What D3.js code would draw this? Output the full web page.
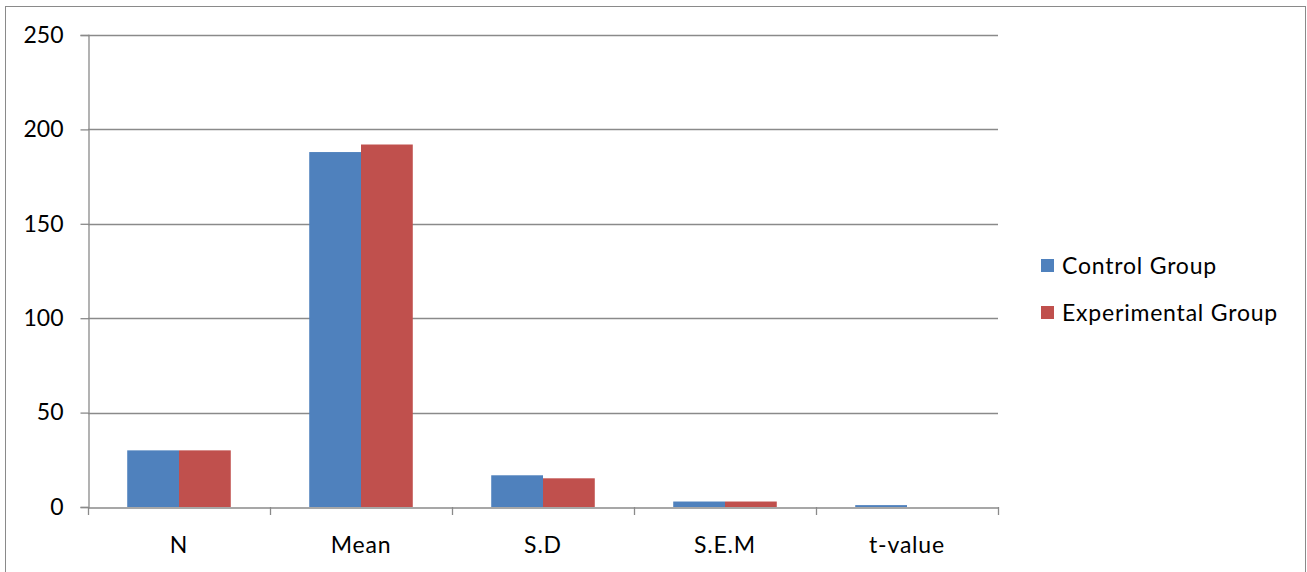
<!DOCTYPE html>
<html>
<head>
<meta charset="utf-8">
<script src="https://cdn.jsdelivr.net/npm/d3@7"></script>
<style>
  html, body { margin: 0; padding: 0; background: #fff; }
  svg { display: block; }
  text { font-family: "Lato", "Open Sans", sans-serif; fill: #000; }
</style>
</head>
<body>
<svg id="chart" width="1307" height="572"></svg>
<script>
// Summary statistics for the two groups
const categories = ["N", "Mean", "S.D", "S.E.M", "t-value"];
const seriesNames = ["Control Group", "Experimental Group"];
const controlValues = [30, 188, 16.8, 2.9, 1.0];
const experimentalValues = [30, 192, 15.2, 2.9, 0];
const yTicks = [0, 50, 100, 150, 200, 250];
const seriesColors = ["#4F81BD", "#C0504D"];

const svg = d3.select("#chart");
const gridColor = "#8a8a8a";
const fontSize = 23;
const labelSpacing = "0.8px";

// Outer frame
svg.append("rect")
  .attr("x", 5.5).attr("y", 6.5)
  .attr("width", 1300).attr("height", 580)
  .attr("fill", "none").attr("stroke", gridColor).attr("stroke-width", 1);

const plot = { left: 88, right: 998, top: 35, bottom: 507 };

const x = d3.scaleBand()
  .domain(categories)
  .range([plot.left, plot.right])
  .paddingInner(0).paddingOuter(0);

const inner = d3.scaleBand()
  .domain(seriesNames)
  .range([0, x.bandwidth()])
  .paddingOuter(0.7575).paddingInner(0);

const y = d3.scaleLinear()
  .domain([0, 250])
  .range([plot.bottom, plot.top]);

// Horizontal gridlines
svg.append("g")
  .selectAll("line")
  .data(yTicks.filter(t => t > 0))
  .join("line")
  .attr("x1", plot.left).attr("x2", plot.right)
  .attr("y1", d => Math.round(y(d)) + 0.5).attr("y2", d => Math.round(y(d)) + 0.5)
  .attr("stroke", gridColor).attr("stroke-width", 1.3);

// Bars
const rows = categories.map((c, i) => ({ cat: c, vals: [controlValues[i], experimentalValues[i]] }));
const groups = svg.append("g")
  .selectAll("g")
  .data(rows)
  .join("g")
  .attr("transform", d => `translate(${x(d.cat)},0)`);

groups.selectAll("rect")
  .data(d => d.vals.map((v, j) => ({ name: seriesNames[j], v, j })))
  .join("rect")
  .attr("x", d => inner(d.name))
  .attr("width", inner.bandwidth())
  .attr("y", d => y(d.v))
  .attr("height", d => y(0) - y(d.v))
  .attr("fill", d => seriesColors[d.j]);

// Y axis
const yAxis = d3.axisLeft(y)
  .tickValues(yTicks)
  .tickSize(8)
  .tickPadding(17)
  .tickFormat(d3.format("d"));
const gy = svg.append("g")
  .attr("transform", `translate(${plot.left + 0.5},0)`)
  .call(yAxis);
gy.select(".domain").attr("stroke", gridColor).attr("stroke-width", 1.3);
gy.selectAll(".tick line").attr("stroke", gridColor).attr("stroke-width", 1.3);
gy.selectAll(".tick text")
  .attr("font-size", fontSize)
  .style("font-family", "Lato, sans-serif")
  .attr("fill", "#000");

// X axis
const xAxis = d3.axisBottom(x).tickSize(0).tickPadding(29);
const gx = svg.append("g")
  .attr("transform", `translate(0,${plot.bottom + 0.5})`)
  .call(xAxis);
gx.select(".domain").attr("stroke", gridColor).attr("stroke-width", 1.3);
gx.selectAll(".tick text")
  .attr("font-size", fontSize)
  .style("font-family", "Lato, sans-serif")
  .style("letter-spacing", labelSpacing)
  .attr("fill", "#000");

// Tick marks on category boundaries
const boundaries = categories.map(c => x(c)).concat([plot.right]);
svg.append("g")
  .selectAll("line")
  .data(boundaries)
  .join("line")
  .attr("x1", d => Math.round(d) + 0.5).attr("x2", d => Math.round(d) + 0.5)
  .attr("y1", plot.bottom).attr("y2", plot.bottom + 8)
  .attr("stroke", gridColor).attr("stroke-width", 1.3);

// Legend
const legend = svg.append("g").attr("transform", "translate(1041,266)");
const items = legend.selectAll("g")
  .data(seriesNames)
  .join("g")
  .attr("transform", (d, i) => `translate(0,${i * 47})`);
items.append("rect")
  .attr("x", 0).attr("y", -7)
  .attr("width", 13).attr("height", 13)
  .attr("fill", (d, i) => seriesColors[i]);
items.append("text")
  .attr("x", 21).attr("y", 0)
  .attr("dy", "0.35em")
  .attr("font-size", fontSize)
  .style("letter-spacing", labelSpacing)
  .text(d => d);
</script>
</body>
</html>
